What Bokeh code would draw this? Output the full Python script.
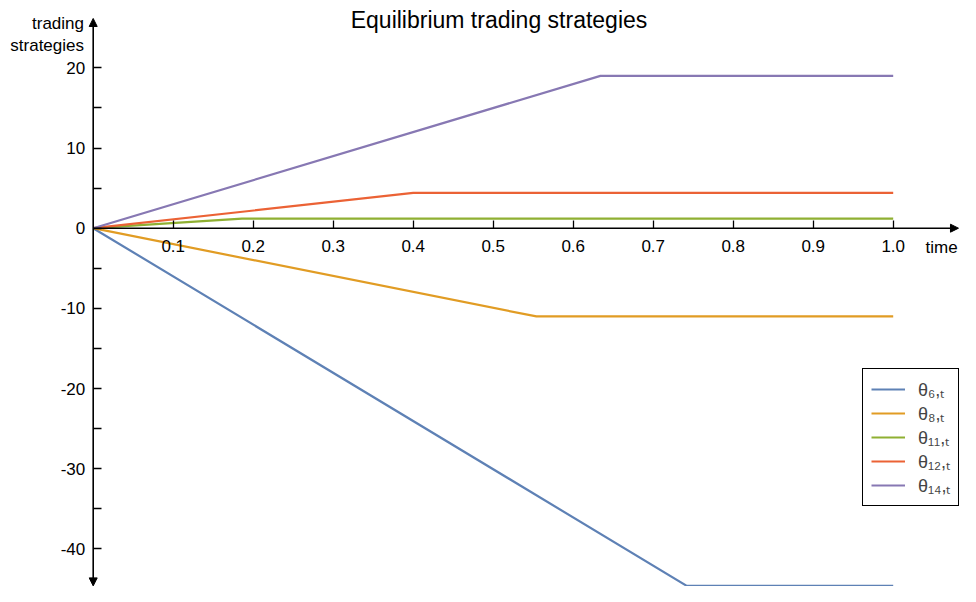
from bokeh.plotting import figure
from bokeh.models import (Range1d, FixedTicker, Arrow, NormalHead, Label, Legend, LegendItem)
from bokeh.embed import file_html
from bokeh.resources import INLINE

# ---------------- data ----------------
series_names = ["θ₆,ₜ", "θ₈,ₜ", "θ₁₁,ₜ", "θ₁₂,ₜ", "θ₁₄,ₜ"]
series_colors = ["#5E81B5", "#E19C24", "#8FB032", "#EB6235", "#8778B3"]

t_6 = [0.0, 0.742, 1.0]
theta_6 = [0.0, -44.6, -44.6]
t_8 = [0.0, 0.554, 1.0]
theta_8 = [0.0, -11.0, -11.0]
t_11 = [0.0, 0.186, 1.0]
theta_11 = [0.0, 1.2, 1.2]
t_12 = [0.0, 0.4, 1.0]
theta_12 = [0.0, 4.4, 4.4]
t_14 = [0.0, 0.634, 1.0]
theta_14 = [0.0, 19.0, 19.0]

x_ticks = [0.1, 0.2, 0.3, 0.4, 0.5, 0.6, 0.7, 0.8, 0.9, 1.0]
x_tick_labels = ["0.1", "0.2", "0.3", "0.4", "0.5", "0.6", "0.7", "0.8", "0.9", "1.0"]
y_ticks = [-40, -30, -20, -10, 0, 10, 20]
y_tick_labels = ["-40", "-30", "-20", "-10", "0", "10", "20"]
y_minor_ticks = [-35, -25, -15, -5, 5, 15]

title_text = "Equilibrium trading strategies"
y_label_lines = ["trading", "strategies"]
x_label_text = "time"

# ---------------- figure ----------------
FONT = "Liberation Sans"
W, H = 960, 586
p = figure(width=W, height=H, output_backend="svg", toolbar_location=None,
           x_range=Range1d(-0.115875, 1.084125), y_range=Range1d(-44.676, 28.392),
           min_border=0, min_border_left=0, min_border_right=0,
           min_border_top=0, min_border_bottom=0)
p.title.visible = False
p.grid.visible = False
p.outline_line_color = None
p.background_fill_color = "white"
p.border_fill_color = "white"

# axes crossing at origin
p.xaxis.fixed_location = 0
p.yaxis.fixed_location = 0
for ax in (p.xaxis, p.yaxis):
    ax.axis_line_color = None
    ax.major_tick_in = 8
    ax.major_tick_out = 0
    ax.minor_tick_in = 8
    ax.minor_tick_out = 0
    ax.major_tick_line_color = "black"
    ax.minor_tick_line_color = "black"
    ax.major_tick_line_width = 1.3
    ax.minor_tick_line_width = 1.3
    ax.major_label_text_font = FONT
    ax.major_label_text_font_size = "17px"
    ax.major_label_text_color = "black"

p.xaxis.ticker = FixedTicker(ticks=x_ticks, minor_ticks=[])
p.xaxis.major_label_overrides = {t: l for t, l in zip(x_ticks, x_tick_labels)}
p.xaxis.major_label_standoff = 12
p.yaxis.ticker = FixedTicker(ticks=y_ticks, minor_ticks=y_minor_ticks)
p.yaxis.major_label_overrides = {t: l for t, l in zip(y_ticks, y_tick_labels)}
p.yaxis.major_label_standoff = 8

# axis lines with arrow heads
p.add_layout(Arrow(x_start=0, y_start=0, x_end=1.0816, y_end=0,
                   line_color="black", line_width=1.6,
                   end=NormalHead(size=8, fill_color="black", line_color="black", line_width=1)))
p.add_layout(Arrow(x_start=0, y_start=-44.6, x_end=0, y_end=26.15,
                   line_color="black", line_width=1.6,
                   start=NormalHead(size=8, fill_color="black", line_color="black", line_width=1),
                   end=NormalHead(size=8, fill_color="black", line_color="black", line_width=1)))

# series
ts = [t_6, t_8, t_11, t_12, t_14]
vals = [theta_6, theta_8, theta_11, theta_12, theta_14]
items = []
for name, color, t, v in zip(series_names, series_colors, ts, vals):
    r = p.line(t, v, line_color=color, line_width=2.2)
    items.append(LegendItem(label=name, renderers=[r]))

legend = Legend(items=items, location=(862, 80), orientation="vertical",
                border_line_color="black", border_line_width=1.2, border_line_alpha=1,
                background_fill_color="white", background_fill_alpha=1,
                label_text_font=FONT, label_text_font_size="18px",
                glyph_width=34, glyph_height=20, label_height=20,
                label_standoff=13, spacing=0, padding=8, margin=0)
p.add_layout(legend, "center")

# texts
p.add_layout(Label(x=0.50725, y=25.9, text=title_text, text_align="center",
                   text_baseline="alphabetic", text_font=FONT, text_font_size="23px",
                   text_color="black"))
p.add_layout(Label(x=-0.0115, y=25.52, text=y_label_lines[0], text_align="right",
                   text_baseline="middle", text_font=FONT, text_font_size="17px",
                   text_color="black"))
p.add_layout(Label(x=-0.0115, y=22.78, text=y_label_lines[1], text_align="right",
                   text_baseline="middle", text_font=FONT, text_font_size="17px",
                   text_color="black"))
p.add_layout(Label(x=1.0404, y=-2.41, text=x_label_text, text_align="left",
                   text_baseline="middle", text_font=FONT, text_font_size="17px",
                   text_color="black"))

open("out.html", "w").write(file_html(p, INLINE))
